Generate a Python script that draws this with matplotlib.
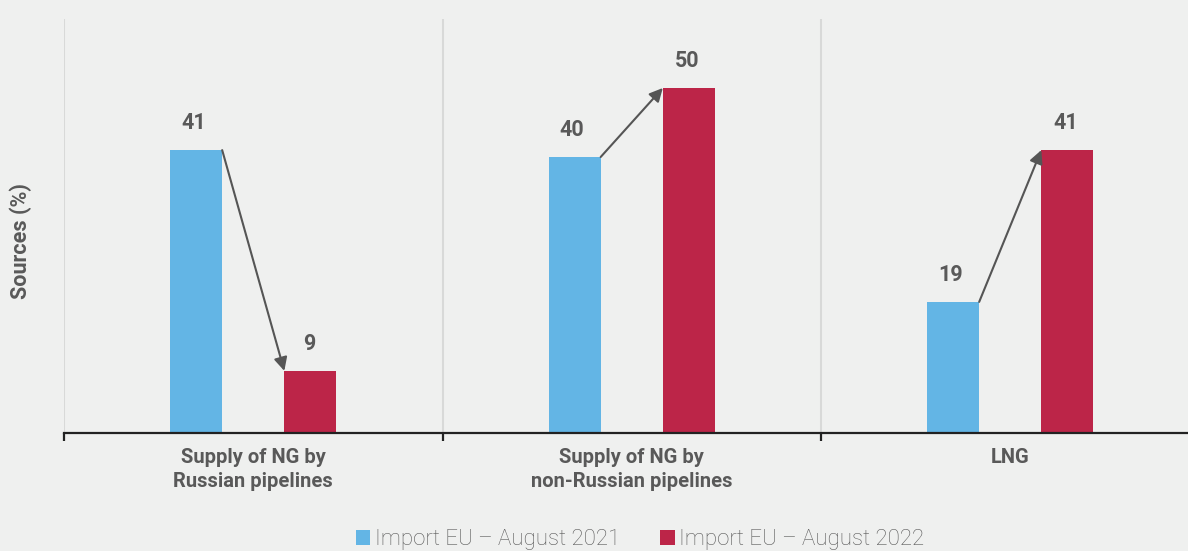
import matplotlib
matplotlib.use("Agg")
import matplotlib.pyplot as plt
from matplotlib.patches import Patch
import numpy as np

plt.rcParams['font.family'] = ['Roboto', 'DejaVu Sans']

categories = ["Supply of NG by\nRussian pipelines", "Supply of NG by\nnon-Russian pipelines", "LNG"]
series_names = ["Import EU – August 2021", "Import EU – August 2022"]
values_2021 = [41, 40, 19]
values_2022 = [9, 50, 41]

BG = "#eff0ef"
BLUE = "#63b5e5"
RED = "#bc2548"
TXT = "#595959"
ARROW = "#555555"

W, H = 1188, 551
fig = plt.figure(figsize=(W / 100, H / 100), dpi=100, facecolor=BG)
ax = fig.add_axes([64 / W, 1 - 433 / H, (1199.5 - 64) / W, (433 - 19) / H])
ax.set_facecolor(BG)

x = np.arange(len(categories))
off = 0.1506
bw = 0.137

ax.bar(x - off, values_2021, width=bw, color=BLUE, zorder=3)
ax.bar(x + off, values_2022, width=bw, color=RED, zorder=3)

ax.set_xlim(-0.5, 2.5)
ax.set_ylim(0, 60)

for sep in [-0.5, 0.5, 1.5]:
    ax.axvline(sep, color="#d8d9d8", lw=1.5, zorder=1)

for xi, v in zip(x - off, values_2021):
    ax.annotate(str(v), (xi, v), xytext=(-2, 15), textcoords="offset points",
                ha="center", va="baseline", fontsize=15.5, fontweight="bold", color=TXT)
for xi, v in zip(x + off, values_2022):
    ax.annotate(str(v), (xi, v), xytext=(-1, 15), textcoords="offset points",
                ha="center", va="baseline", fontsize=15.5, fontweight="bold", color=TXT)

for xi, v1, v2 in zip(x, values_2021, values_2022):
    ax.annotate("", xy=(xi + off - bw / 2, v2), xytext=(xi - off + bw / 2, v1),
                arrowprops=dict(arrowstyle="-|>", color=ARROW, lw=1.5,
                                mutation_scale=20, shrinkA=0, shrinkB=0),
                zorder=5)

for s in ["left", "right", "top"]:
    ax.spines[s].set_visible(False)
ax.spines["bottom"].set_color("#222222")
ax.spines["bottom"].set_linewidth(1.6)
ax.spines["bottom"].set_zorder(4)

ax.set_yticks([])
ax.set_xticks(x)
ax.set_xticklabels(categories, fontsize=14.5, fontweight="bold", color=TXT, linespacing=1.3)
ax.tick_params(axis="x", which="major", length=0, pad=11)
ax.set_xticks([-0.5, 0.5, 1.5], minor=True)
ax.tick_params(axis="x", which="minor", length=6, width=1.6, color="#222222", direction="out")

fig.text(21 / W, 1 - 241 / H, "Sources (%)", rotation=90, ha="center", va="center",
         fontsize=15.5, fontweight="bold", color=TXT)

handles = [Patch(facecolor=BLUE, edgecolor="none"), Patch(facecolor=RED, edgecolor="none")]
leg = fig.legend(handles, series_names, loc="center", bbox_to_anchor=(640 / W, 1 - 540 / H),
                 ncol=2, frameon=False, fontsize=16, handlelength=0.65, handleheight=0.65,
                 handletextpad=0.2, columnspacing=1.8, borderaxespad=0)
for t in leg.get_texts():
    t.set_color(TXT)
    t.set_fontweight("light")

fig.savefig("out.png", dpi=100, facecolor=BG)
